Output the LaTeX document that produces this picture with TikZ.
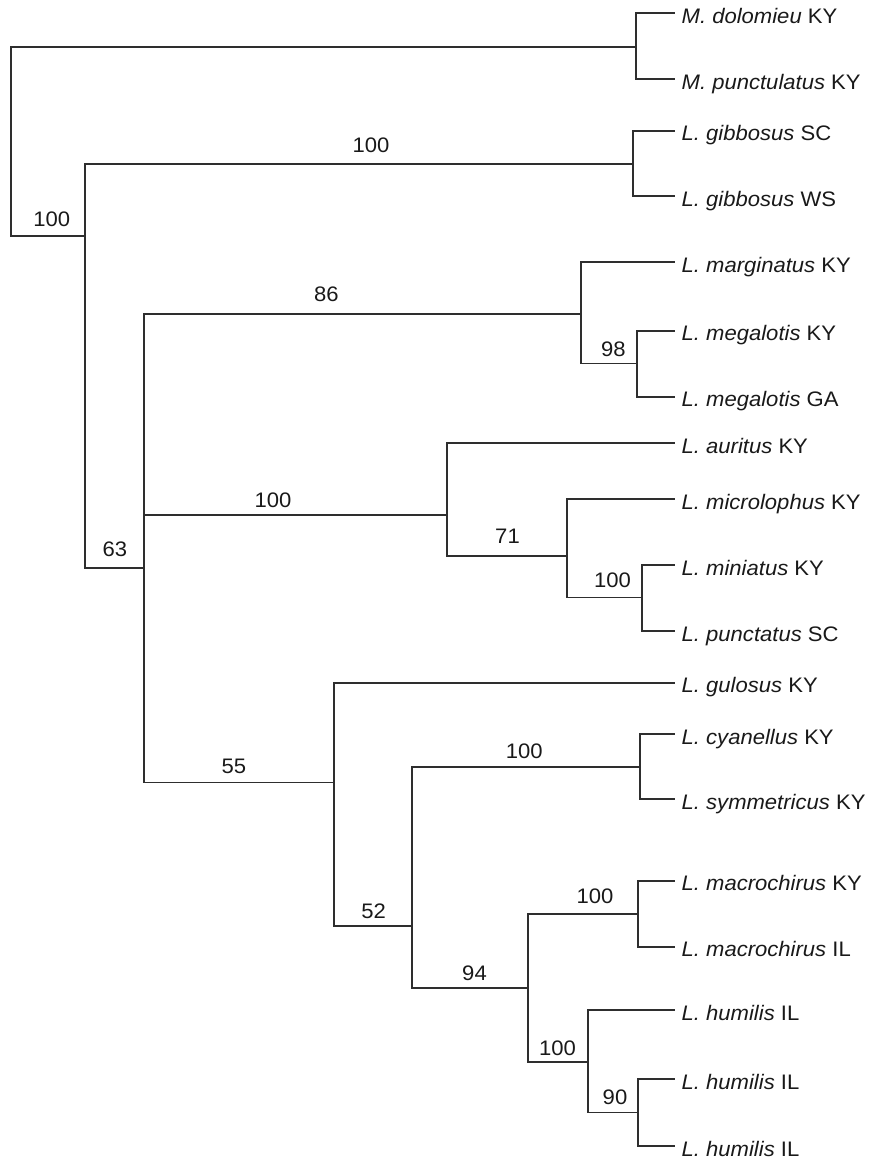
\documentclass[tikz,border=0pt]{standalone}
\usepackage{fontspec}
\setmainfont{Liberation Sans}[FakeStretch=1.05]
\begin{document}
\begin{tikzpicture}[x=1pt,y=-1pt,
  branch/.style={draw=black!82,line width=1.8pt,line join=miter},
  leaflab/.style={anchor=base west,inner sep=0pt,text=black!90,font=\fontsize{21}{24}\selectfont},
  support/.style={anchor=center,inner sep=0pt,text=black!90,font=\fontsize{21}{24}\selectfont}]
\useasboundingbox (0,0) rectangle (872,1160);
% internal nodes
\coordinate (root) at (11,141);
\coordinate (nM) at (636,46.7);
\coordinate (nB) at (84.6,235.7);
\coordinate (nG) at (633,163.7);
\coordinate (nC) at (143.6,568);
\coordinate (nMar) at (581,314.3);
\coordinate (nMeg) at (636.7,363.5);
\coordinate (nAur) at (447,515);
\coordinate (n71) at (567,555.7);
\coordinate (nMin) at (642,597.5);
\coordinate (n55) at (334,782.4);
\coordinate (n52) at (411.8,926);
\coordinate (nCy) at (640,766.8);
\coordinate (n94) at (528,988);
\coordinate (nMac) at (638.3,913.7);
\coordinate (nHum) at (588,1062.3);
\coordinate (n90) at (638.3,1112.5);
% leaf tips
\foreach \i/\y in {1/13.3,2/79.3,3/130.7,4/196,5/262.3,6/330.7,7/396.7,8/443.3,9/499.3,10/565.3,11/631,12/682.7,13/734,14/799.3,15/880.7,16/946.7,17/1010,18/1079.3,19/1146}
  \coordinate (t\i) at (675,\y);
% leaf labels
\node[leaflab] (l1) at ([xshift=6.5pt,yshift=-10pt]t1) {\textit{M. dolomieu} KY};
\node[leaflab] (l2) at ([xshift=6.5pt,yshift=-10pt]t2) {\textit{M. punctulatus} KY};
\node[leaflab] (l3) at ([xshift=6.5pt,yshift=-10pt]t3) {\textit{L. gibbosus} SC};
\node[leaflab] (l4) at ([xshift=6.5pt,yshift=-10pt]t4) {\textit{L. gibbosus} WS};
\node[leaflab] (l5) at ([xshift=6.5pt,yshift=-10pt]t5) {\textit{L. marginatus} KY};
\node[leaflab] (l6) at ([xshift=6.5pt,yshift=-10pt]t6) {\textit{L. megalotis} KY};
\node[leaflab] (l7) at ([xshift=6.5pt,yshift=-10pt]t7) {\textit{L. megalotis} GA};
\node[leaflab] (l8) at ([xshift=6.5pt,yshift=-10pt]t8) {\textit{L. auritus} KY};
\node[leaflab] (l9) at ([xshift=6.5pt,yshift=-10pt]t9) {\textit{L. microlophus} KY};
\node[leaflab] (l10) at ([xshift=6.5pt,yshift=-10pt]t10) {\textit{L. miniatus} KY};
\node[leaflab] (l11) at ([xshift=6.5pt,yshift=-10pt]t11) {\textit{L. punctatus} SC};
\node[leaflab] (l12) at ([xshift=6.5pt,yshift=-10pt]t12) {\textit{L. gulosus} KY};
\node[leaflab] (l13) at ([xshift=6.5pt,yshift=-10pt]t13) {\textit{L. cyanellus} KY};
\node[leaflab] (l14) at ([xshift=6.5pt,yshift=-10pt]t14) {\textit{L. symmetricus} KY};
\node[leaflab] (l15) at ([xshift=6.5pt,yshift=-10pt]t15) {\textit{L. macrochirus} KY};
\node[leaflab] (l16) at ([xshift=6.5pt,yshift=-10pt]t16) {\textit{L. macrochirus} IL};
\node[leaflab] (l17) at ([xshift=6.5pt,yshift=-10pt]t17) {\textit{L. humilis} IL};
\node[leaflab] (l18) at ([xshift=6.5pt,yshift=-10pt]t18) {\textit{L. humilis} IL};
\node[leaflab] (l19) at ([xshift=6.5pt,yshift=-10pt]t19) {\textit{L. humilis} IL};
% branches
\draw[branch] (root) |- (nM);
\draw[branch] (root) |- (nB);
\draw[branch] (nM) |- (t1);
\draw[branch] (nM) |- (t2);
\draw[branch] (nB) |- (nG);
\draw[branch] (nB) |- (nC);
\draw[branch] (nG) |- (t3);
\draw[branch] (nG) |- (t4);
\draw[branch] (nC) |- (nMar);
\draw[branch] (nC) |- (nAur);
\draw[branch] (nC) |- (n55);
\draw[branch] (nMar) |- (t5);
\draw[branch] (nMar) |- (nMeg);
\draw[branch] (nMeg) |- (t6);
\draw[branch] (nMeg) |- (t7);
\draw[branch] (nAur) |- (t8);
\draw[branch] (nAur) |- (n71);
\draw[branch] (n71) |- (t9);
\draw[branch] (n71) |- (nMin);
\draw[branch] (nMin) |- (t10);
\draw[branch] (nMin) |- (t11);
\draw[branch] (n55) |- (t12);
\draw[branch] (n55) |- (n52);
\draw[branch] (n52) |- (nCy);
\draw[branch] (n52) |- (n94);
\draw[branch] (nCy) |- (t13);
\draw[branch] (nCy) |- (t14);
\draw[branch] (n94) |- (nMac);
\draw[branch] (n94) |- (nHum);
\draw[branch] (nMac) |- (t15);
\draw[branch] (nMac) |- (t16);
\draw[branch] (nHum) |- (t17);
\draw[branch] (nHum) |- (n90);
\draw[branch] (n90) |- (t18);
\draw[branch] (n90) |- (t19);
% support values
\node[support] (sRoot) at (51.8,219) {100};
\node[support] (sG) at (371,145.5) {100};
\node[support] (s86) at (326.3,294) {86};
\node[support] (s63) at (114.8,549) {63};
\node[support] (s98) at (613.3,349) {98};
\node[support] (sAur) at (273,500) {100};
\node[support] (s71) at (507.5,536) {71};
\node[support] (sMin) at (612.6,580) {100};
\node[support] (s55) at (234,766) {55};
\node[support] (sCy) at (524.3,751.4) {100};
\node[support] (s52) at (373.6,911.7) {52};
\node[support] (s94) at (474.5,973) {94};
\node[support] (sMac) at (595,896.7) {100};
\node[support] (sHum) at (557.5,1048.3) {100};
\node[support] (s90) at (615,1097.5) {90};
\end{tikzpicture}
\end{document}
